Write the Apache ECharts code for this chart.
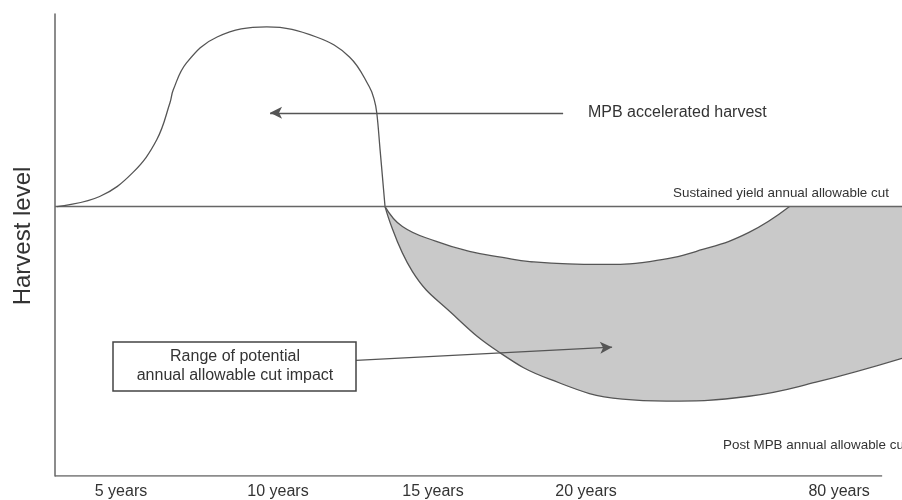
<!DOCTYPE html>
<html>
<head>
<meta charset="utf-8">
<script src="https://cdn.jsdelivr.net/npm/echarts@6/dist/echarts.min.js"></script>
<style>html,body{margin:0;padding:0;background:#fff}#c{width:902px;height:500px}</style>
</head>
<body>
<div id="c"></div>
<script>
// Time axis (schematic units, 0..100 = drawn axis length) and tick labels
var tickValues = [7.98, 26.96, 45.7, 64.2, 94.8];
var tickLabels = ['5 years', '10 years', '15 years', '20 years', '80 years'];

// MPB accelerated harvest curve [x, level]; baseline (sustained yield) = 0
var harvestX = [0.24, 5.4, 9.4, 12.3, 13.9, 14.3, 15.9, 19.6, 25.6, 31.6, 35.6, 38.0, 38.6, 38.9, 39.3, 39.9];
var harvestY = [0, 5.6, 18.9, 37.2, 57.8, 65, 80, 94.4, 100, 94.4, 83.3, 66.7, 59.4, 52.2, 31.7, 0];

// Sustained yield line
var sustainedX = [0, 102.4];
var sustainedY = [0, 0];

// Upper edge of potential AAC impact range
var upperX = [39.9, 42.0, 46.1, 50.1, 54.1, 57.4, 65.8, 71.9, 78.3, 83.9, 88.8];
var upperY = [0, -11.1, -19.4, -25, -28.3, -30.6, -32.2, -30.6, -23.9, -14.4, 0];

// Lower edge of potential AAC impact range
var lowerX = [39.9, 43.2, 48.1, 53.7, 59.8, 68.6, 73.9, 83.9, 92.0, 102.4];
var lowerY = [0, -36.1, -60, -81.1, -96.1, -107.2, -108.3, -105.6, -97.8, -84.5];

function pairs(xs, ys) { return xs.map(function (x, i) { return [x, ys[i]]; }); }

var lineColor = '#555';
var font = '"Liberation Sans", Arial, sans-serif';
var chart = echarts.init(document.getElementById('c'), null, {renderer: 'canvas'});
// grid spans to the right edge; the drawn x-axis line stops at x = 100
var xMax = 102.4;
chart.setOption({
  animation: false,
  backgroundColor: '#fff',
  grid: {left: 55, right: 0, top: 14, bottom: 23},
  xAxis: {
    type: 'value', min: 0, max: xMax,
    axisLine: {show: false},
    axisTick: {show: false},
    splitLine: {show: false},
    axisLabel: {
      customValues: tickValues,
      margin: 8,
      color: '#333', fontSize: 16, fontFamily: font,
      formatter: function (v) {
        var best = 0;
        for (var i = 0; i < tickValues.length; i++) {
          if (Math.abs(tickValues[i] - v) < Math.abs(tickValues[best] - v)) best = i;
        }
        return tickLabels[best];
      }
    }
  },
  yAxis: {
    type: 'value', min: -150, max: 107.2,
    axisLine: {show: true, lineStyle: {color: '#666', width: 1.5}},
    axisTick: {show: false},
    axisLabel: {show: false},
    splitLine: {show: false}
  },
  series: [
    {
      name: 'lower', type: 'line', smooth: 0.45, symbol: 'none',
      data: pairs(lowerX, lowerY),
      lineStyle: {color: lineColor, width: 1.3},
      areaStyle: {color: '#c9c9c9', opacity: 1},
      z: 2
    },
    {
      name: 'upper', type: 'line', smooth: 0.45, symbol: 'none',
      data: pairs(upperX, upperY),
      lineStyle: {color: lineColor, width: 1.3},
      areaStyle: {color: '#fff', opacity: 1},
      z: 3
    },
    {
      name: 'sustained', type: 'line', symbol: 'none',
      data: pairs(sustainedX, sustainedY),
      lineStyle: {color: '#666', width: 1.5},
      z: 4,
      markLine: {
        silent: true,
        symbol: ['none', 'arrow'],
        symbolSize: [9, 12],
        label: {show: false},
        lineStyle: {color: '#555', width: 1.3, type: 'solid'},
        data: [
          [{coord: [61.43, 52.2]}, {coord: [26.0, 52.2]}],
          [{coord: [36.4, -85.6]}, {coord: [67.35, -78.3]}]
        ]
      }
    },
    {
      name: 'xaxis', type: 'line', symbol: 'none', silent: true,
      data: [[0, -150], [100, -150]],
      lineStyle: {color: '#666', width: 1.5},
      z: 4
    },
    {
      name: 'accelerated', type: 'line', smooth: 0.4, symbol: 'none',
      data: pairs(harvestX, harvestY),
      lineStyle: {color: lineColor, width: 1.3},
      z: 5
    }
  ],
  graphic: [
    {type: 'text', x: 23, y: 236, rotation: Math.PI / 2,
      style: {text: 'Harvest level', fill: '#333', font: '24px ' + font, align: 'center', verticalAlign: 'middle'}},
    {type: 'text', x: 588, y: 113,
      style: {text: 'MPB accelerated harvest', fill: '#333', font: '16px ' + font, align: 'left', verticalAlign: 'middle'}},
    {type: 'text', x: 673, y: 193,
      style: {text: 'Sustained yield annual allowable cut', fill: '#333', font: '13.4px ' + font, align: 'left', verticalAlign: 'middle'}},
    {type: 'text', x: 723, y: 445,
      style: {text: 'Post MPB annual allowable cut', fill: '#333', font: '13.4px ' + font, align: 'left', verticalAlign: 'middle'}},
    {type: 'rect', shape: {x: 113, y: 342, width: 243, height: 49},
      style: {fill: '#fff', stroke: '#444', lineWidth: 1.5}, z: 10},
    {type: 'text', x: 235, y: 357, z: 11,
      style: {text: 'Range of potential', fill: '#333', font: '16px ' + font, align: 'center', verticalAlign: 'middle'}},
    {type: 'text', x: 235, y: 376, z: 11,
      style: {text: 'annual allowable cut impact', fill: '#333', font: '16px ' + font, align: 'center', verticalAlign: 'middle'}}
  ]
});
</script>
</body>
</html>
